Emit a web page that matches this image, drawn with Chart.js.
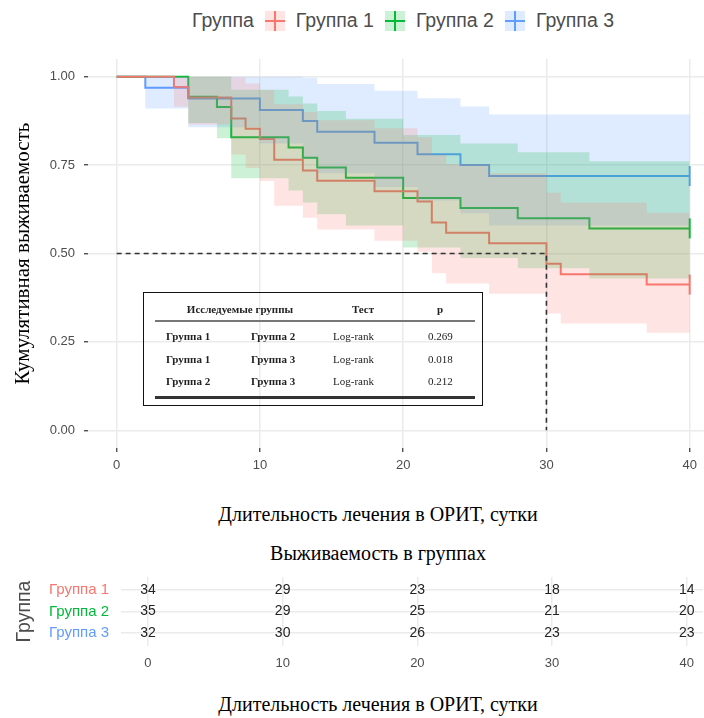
<!DOCTYPE html>
<html>
<head>
<meta charset="utf-8">
<script src="https://cdn.jsdelivr.net/npm/chart.js@4.4.0/dist/chart.umd.min.js"></script>
<style>
  body { margin: 0; background: #fff; width: 704px; height: 718px; position: relative; overflow: hidden;
         font-family: 'Liberation Sans', Arial, sans-serif; }
  canvas { position: absolute; left: 0; }
  #km { top: 0; }
  #risk { top: 565px; }
  .ttl { position: absolute; left: 0; width: 756px; text-align: center; font: 20px 'Liberation Serif', serif;
         color: #000; line-height: 20px; }
  #legend { position: absolute; top: 10px; left: 192px; height: 21px; display: flex; align-items: center;
            font-size: 19.5px; color: #4d4d4d; }
  .key { position: relative; width: 20px; height: 20px; margin: 0 11px; }
  .key i { position: absolute; display: block; }
  #tests { position: absolute; left: 143px; top: 292px; width: 340px; height: 114px; box-sizing: border-box;
           border: 1.5px solid #111; font: 11px 'Liberation Serif', serif; color: #222; }
  #tests span { position: absolute; white-space: nowrap; line-height: 12px; }
  #tests .rule { position: absolute; left: 11px; width: 320px; }
</style>
</head>
<body>
<div id="legend"></div>
<canvas id="km" width="704" height="480"></canvas>
<div class="ttl" style="top:504px">Длительность лечения в ОРИТ, сутки</div>
<div id="tests"></div>
<div class="ttl" style="top:543px">Выживаемость в группах</div>
<canvas id="risk" width="704" height="120"></canvas>
<div class="ttl" style="top:694px">Длительность лечения в ОРИТ, сутки</div>

<script>
// группы
const groupNames = ['Группа 1', 'Группа 2', 'Группа 3'];
const groupColors = ['#F8766D', '#00BA38', '#619CFF'];
const groupFills = ['rgba(248,118,109,0.2)', 'rgba(0,186,56,0.2)', 'rgba(97,156,255,0.2)'];

// кривые Каплана-Мейера и доверительные интервалы
const g1Time  = [0, 4, 5, 8, 9, 10, 11, 13, 14, 18, 21, 22, 23, 26, 30, 31, 37, 40];
const g1Surv  = [1, 0.971, 0.941, 0.882, 0.853, 0.824, 0.765, 0.735, 0.706, 0.676, 0.647, 0.588, 0.559, 0.529, 0.471, 0.441, 0.412, 0.412];
const g1Lower = [1, 0.915, 0.865, 0.780, 0.742, 0.705, 0.635, 0.601, 0.568, 0.536, 0.505, 0.444, 0.415, 0.386, 0.330, 0.302, 0.276, 0.276];
const g1Upper = [1, 1, 1, 0.998, 0.981, 0.962, 0.922, 0.900, 0.877, 0.854, 0.829, 0.779, 0.753, 0.727, 0.672, 0.644, 0.615, 0.615];

const g2Time  = [0, 5, 7, 8, 12, 13, 14, 16, 20, 24, 28, 33, 40];
const g2Surv  = [1, 0.943, 0.914, 0.829, 0.800, 0.771, 0.743, 0.714, 0.657, 0.629, 0.600, 0.571, 0.571];
const g2Lower = [1, 0.869, 0.826, 0.713, 0.678, 0.644, 0.611, 0.579, 0.517, 0.487, 0.458, 0.429, 0.429];
const g2Upper = [1, 1, 1, 0.963, 0.944, 0.924, 0.903, 0.881, 0.835, 0.811, 0.786, 0.761, 0.761];

const g3Time  = [0, 2, 5, 10, 13, 14, 18, 21, 24, 26, 40];
const g3Surv  = [1, 0.969, 0.938, 0.906, 0.875, 0.844, 0.813, 0.781, 0.750, 0.719, 0.719];
const g3Lower = [1, 0.910, 0.857, 0.811, 0.768, 0.727, 0.688, 0.650, 0.614, 0.579, 0.579];
const g3Upper = [1, 1, 1, 1, 0.997, 0.979, 0.960, 0.939, 0.916, 0.893, 0.893];

// медиана выживаемости группы 1
const medianTime = 30;
const medianLevel = 0.5;

// оси
const xTicks = [0, 10, 20, 30, 40];
const yTicks = [0, 0.25, 0.5, 0.75, 1];

// таблица числа под риском
const riskTimes = [0, 10, 20, 30, 40];
const risk1 = [34, 29, 23, 18, 14];
const risk2 = [35, 29, 25, 21, 20];
const risk3 = [32, 30, 26, 23, 23];

// сравнение групп
const testGroupA = ['Группа 1', 'Группа 1', 'Группа 2'];
const testGroupB = ['Группа 2', 'Группа 3', 'Группа 3'];
const testName = ['Log-rank', 'Log-rank', 'Log-rank'];
const testP = ['0.269', '0.018', '0.212'];

Chart.defaults.font.family = "'Liberation Sans', Arial, sans-serif";
Chart.defaults.color = '#4d4d4d';
// метки цензурирования не должны сдвигать правый край области графика
Chart.registry.getController('line').prototype.getMaxOverflow = function () { return 0; };

const pts = (xs, ys) => xs.map((x, i) => ({x: x, y: ys[i]}));
const noPad = s => { s.paddingTop = 0; s.paddingBottom = 0; };

const groups = [
  [g1Time, g1Surv, g1Lower, g1Upper],
  [g2Time, g2Surv, g2Lower, g2Upper],
  [g3Time, g3Surv, g3Lower, g3Upper]
];

// легенда
const legend = document.getElementById('legend');
legend.innerHTML = '<span>Группа</span>';
groupNames.forEach((name, g) => {
  legend.innerHTML +=
    '<span class="key" style="background:' + groupFills[g] + '">' +
    '<i style="left:9px;top:0;width:2px;height:20px;background:' + groupColors[g] + '"></i>' +
    '<i style="left:0;top:9px;width:20px;height:2px;background:' + groupColors[g] + '"></i></span>' +
    '<span>' + name + '</span>';
});

const datasets = [];
groups.forEach((gr, g) => {
  const n = gr[0].length;
  datasets.push({
    label: groupNames[g],
    data: pts(gr[0], gr[1]),
    stepped: true,
    borderColor: groupColors[g],
    borderWidth: 2,
    fill: false,
    clip: false,
    pointStyle: 'line',
    rotation: 90,
    pointRadius: gr[0].map((t, i) => i === n - 1 ? 10 : 0),
    pointBorderColor: groupColors[g],
    pointBorderWidth: 2,
    order: 10
  });
  datasets.push({
    label: groupNames[g] + ' upper',
    data: pts(gr[0], gr[3]),
    stepped: true,
    showLine: false,
    borderColor: 'transparent',
    borderWidth: 0,
    pointRadius: 0,
    backgroundColor: groupFills[g],
    fill: '+1',
    order: 5
  });
  datasets.push({
    label: groupNames[g] + ' lower',
    data: pts(gr[0], gr[2]),
    stepped: true,
    showLine: false,
    borderColor: 'transparent',
    borderWidth: 0,
    pointRadius: 0,
    fill: false,
    order: 5
  });
});
datasets.push({
  label: 'median',
  data: [{x: 0, y: medianLevel}, {x: medianTime, y: medianLevel}, {x: medianTime, y: 0}],
  borderColor: '#333',
  borderWidth: 1.6,
  borderDash: [5, 4],
  pointRadius: 0,
  fill: false,
  order: -1
});

new Chart(document.getElementById('km'), {
  type: 'line',
  data: {datasets: datasets},
  options: {
    responsive: false,
    animation: false,
    devicePixelRatio: 1,
    events: [],
    layout: {padding: {top: 59, left: 0, right: 0, bottom: 0}},
    plugins: {legend: {display: false}, tooltip: {enabled: false}},
    scales: {
      x: {
        type: 'linear', min: -2, max: 41,
        afterBuildTicks: s => { s.ticks = xTicks.map(v => ({value: v})); },
        afterFit: s => { s.height = 32; },
        ticks: {font: {size: 13}, color: '#4d4d4d', padding: 6, maxRotation: 0},
        grid: {color: '#ebebeb', lineWidth: 1.5, tickLength: 4, tickColor: '#333', tickWidth: 1.2},
        border: {display: false}
      },
      y: {
        type: 'linear', min: -0.05, max: 1.05,
        afterBuildTicks: s => { s.ticks = yTicks.map(v => ({value: v})); },
        afterFit: s => { s.width = 88; noPad(s); },
        ticks: {font: {size: 13}, color: '#4d4d4d', padding: 9, callback: v => v.toFixed(2)},
        grid: {color: '#ebebeb', lineWidth: 1.5, tickLength: 4, tickColor: '#333', tickWidth: 1.2},
        border: {display: false},
        title: {display: true, text: 'Кумулятивная выживаемость', color: '#000',
                font: {family: "'Liberation Serif', serif", size: 21}, padding: {top: 11, bottom: 0}}
      }
    }
  }
});

// таблица тестов
const tests = document.getElementById('tests');
let html = '<span style="left:96px;top:10px;transform:translateX(-50%);font-weight:bold">Исследуемые группы</span>' +
           '<span style="left:219px;top:10px;transform:translateX(-50%);font-weight:bold">Тест</span>' +
           '<span style="left:296px;top:10px;transform:translateX(-50%);font-weight:bold">p</span>' +
           '<div class="rule" style="top:27px;height:1.5px;background:#777"></div>' +
           '<div class="rule" style="top:103px;height:2.5px;background:#333"></div>';
const rowY = [37, 60, 82];
testP.forEach((p, i) => {
  html += '<span style="left:22px;top:' + rowY[i] + 'px;font-weight:bold">' + testGroupA[i] + '</span>' +
          '<span style="left:107px;top:' + rowY[i] + 'px;font-weight:bold">' + testGroupB[i] + '</span>' +
          '<span style="left:189px;top:' + rowY[i] + 'px">' + testName[i] + '</span>' +
          '<span style="left:284px;top:' + rowY[i] + 'px">' + p + '</span>';
});
tests.innerHTML = html;

// таблица риска
const riskCounts = [risk1, risk2, risk3];
const riskLabels = {
  id: 'riskLabels',
  afterDatasetsDraw(chart) {
    const ctx = chart.ctx;
    ctx.save();
    ctx.font = "14px 'Liberation Sans', Arial, sans-serif";
    ctx.fillStyle = '#222';
    ctx.textAlign = 'center';
    ctx.textBaseline = 'middle';
    chart.data.datasets.forEach((ds, g) => {
      chart.getDatasetMeta(g).data.forEach((pt, i) => {
        ctx.fillText(String(riskCounts[g][i]), pt.x, pt.y);
      });
    });
    ctx.restore();
  }
};

new Chart(document.getElementById('risk'), {
  type: 'line',
  data: {
    datasets: riskCounts.map((c, g) => ({
      label: groupNames[g],
      data: riskTimes.map(t => ({x: t, y: g + 1})),
      showLine: false,
      pointRadius: 0
    }))
  },
  options: {
    responsive: false,
    animation: false,
    devicePixelRatio: 1,
    events: [],
    layout: {padding: {top: 12, left: 0, right: 0, bottom: 0}},
    plugins: {legend: {display: false}, tooltip: {enabled: false}},
    scales: {
      x: {
        type: 'linear', min: -2, max: 41.2,
        afterBuildTicks: s => { s.ticks = xTicks.map(v => ({value: v})); },
        afterFit: s => { s.height = 39; },
        ticks: {font: {size: 13}, color: '#4d4d4d', padding: 10, maxRotation: 0},
        grid: {color: '#ebebeb', lineWidth: 1.5, drawTicks: false},
        border: {display: false}
      },
      y: {
        type: 'linear', min: 0.4, max: 3.6, reverse: true,
        afterBuildTicks: s => { s.ticks = [1, 2, 3].map(v => ({value: v})); },
        afterFit: s => { s.width = 121; noPad(s); },
        ticks: {font: {size: 15}, padding: 12, callback: v => groupNames[v - 1],
                color: c => groupColors[c.tick.value - 1]},
        grid: {color: '#ebebeb', lineWidth: 1.5, drawTicks: false},
        border: {display: false},
        title: {display: true, text: 'Группа', color: '#4d4d4d', font: {size: 19.5}, padding: {top: 13, bottom: 0}}
      }
    }
  },
  plugins: [riskLabels]
});
</script>
</body>
</html>
